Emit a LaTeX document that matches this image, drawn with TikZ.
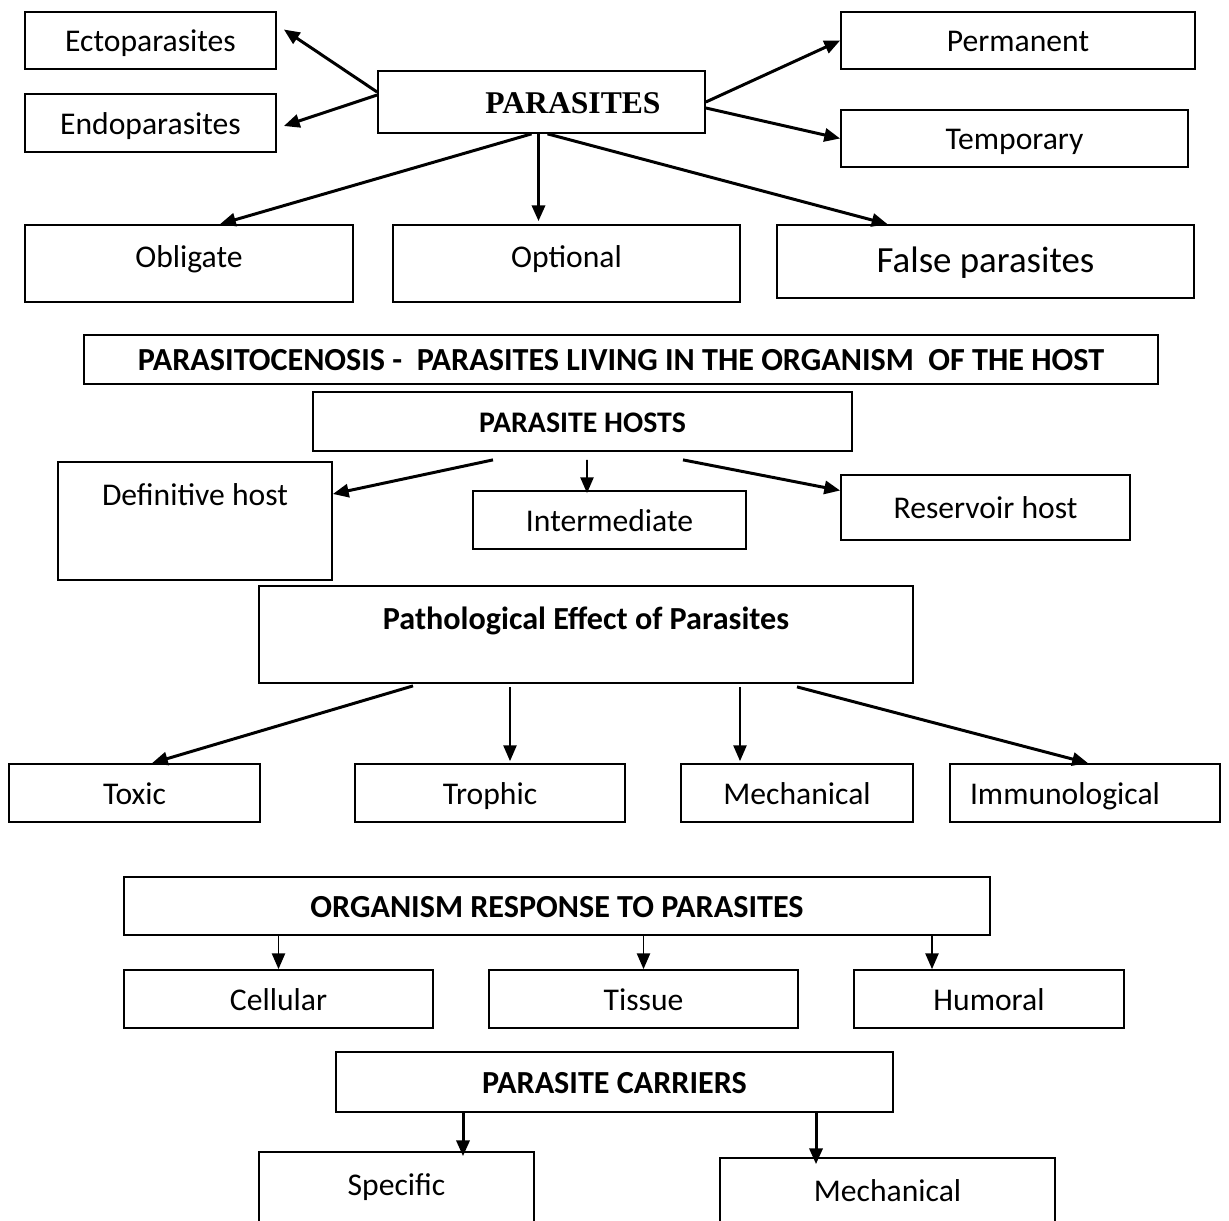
\documentclass[tikz,border=0pt]{standalone}
\usepackage{fontspec}
\setmainfont{Carlito}
\newfontfamily\timesfont{Liberation Serif}
\usepackage{tikz}
\usetikzlibrary{arrows.meta,calc}
\newlength\px
\setlength\px{0.02cm}

\begin{document}
\begin{tikzpicture}[x=\px,y=-\px,>={Triangle[length=9pt,width=7.5pt]},
  box/.style={draw,line width=1pt,inner sep=0pt,text height=13.5pt,text depth=0.5pt,font=\fontsize{18}{22}\selectfont},
  head/.style={box,font=\bfseries\fontsize{18.3}{22}\selectfont},
  arr/.style={->,line width=1.7pt},
  arrthin/.style={->,line width=1.1pt}]
\useasboundingbox (0,0) rectangle (1229,1220);
\clip (0,0) rectangle (1229,1220);

% kinds of parasites
\node[box,font=\timesfont\bfseries\fontsize{18}{22}\selectfont,minimum width=327\px,minimum height=62\px] (par) at (541.5,102) {\hspace*{63\px}PARASITES};
\node[box,minimum width=251\px,minimum height=57\px] (ecto) at (150.5,40.5) {Ectoparasites};
\node[box,minimum width=251\px,minimum height=58\px] (endo) at (150.5,123) {Endoparasites};
\node[box,minimum width=354\px,minimum height=57\px] (perm) at (1018,40.5) {Permanent};
\node[box,minimum width=347\px,minimum height=57\px] (temp) at (1014.5,138.5) {Temporary};
\node[box,minimum width=328\px,text height=42\px,text depth=35\px] (oblig) at (189,263.5) {Obligate};
\node[box,minimum width=347\px,text height=42\px,text depth=35\px] (opt) at (566.5,263.5) {Optional};
\node[box,font=\fontsize{21}{25}\selectfont,minimum width=417\px,minimum height=73\px] (falsep) at (985.5,261.5) {False parasites};
\draw[arr] ([yshift=10\px]par.west) -- ([xshift=7\px,yshift=11\px]ecto.east);
\draw[arr] ([yshift=7\px]par.west) -- ([xshift=7\px,yshift=-3\px]endo.east);
\draw[arr] (par.east) -- (perm.west);
\draw[arr] ([yshift=-6\px]par.east) -- (temp.west);
\draw[arr] ([xshift=-10\px]par.south) -- ([xshift=31\px]oblig.north);
\draw[arr] ([xshift=-3\px]par.south) -- ([xshift=-28\px,yshift=3\px]opt.north);
\draw[arr] ([xshift=6\px]par.south) -- ([xshift=-98\px]falsep.north);

% hosts
\node[head,minimum width=1074\px,minimum height=49\px] (cenosis) at (621,359.5) {PARASITOCENOSIS -\ \ PARASITES LIVING IN THE ORGANISM\ \ OF THE HOST};
\node[head,font=\bfseries\fontsize{17}{20}\selectfont,minimum width=539\px,minimum height=59\px] (hosts) at (582.5,421.5) {PARASITE HOSTS};
\node[box,minimum width=274\px,text height=43\px,text depth=75\px] (defh) at (195,521) {Definitive host};
\node[box,minimum width=273\px,minimum height=58\px] (inter) at (609.5,520) {Intermediate};
\node[box,minimum width=289\px,minimum height=65\px] (res) at (985.5,507.5) {Reservoir host};
\draw[arr] ([xshift=-89.5\px,yshift=-8\px]hosts.south) -- ([yshift=27\px]defh.east);
\draw[arrthin] ([xshift=4.5\px,yshift=-8\px]hosts.south) -- ([xshift=-22.5\px,yshift=-3\px]inter.north);
\draw[arr] ([xshift=100.5\px,yshift=-8\px]hosts.south) -- ([yshift=17\px]res.west);

% pathological effect
\node[head,minimum width=654\px,text height=43\px,text depth=54\px] (patho) at (586,634.5) {Pathological Effect of Parasites};
\node[box,minimum width=251\px,minimum height=58\px] (toxic) at (134.5,793) {Toxic};
\node[box,minimum width=270\px,minimum height=58\px] (trophic) at (490,793) {Trophic};
\node[box,minimum width=232\px,minimum height=58\px] (mech) at (797,793) {Mechanical};
\node[box,minimum width=270\px,minimum height=58\px] (immuno) at (1085,793) {Immunological\hspace*{40\px}};
\draw[arr] ([xshift=-173\px,yshift=-2\px]patho.south) -- ([xshift=17.5\px]toxic.north);
\draw[arrthin] ([xshift=-76\px,yshift=-3\px]patho.south) -- ([xshift=20\px,yshift=2\px]trophic.north);
\draw[arrthin] ([xshift=154\px,yshift=-3\px]patho.south) -- ([xshift=-57\px,yshift=2\px]mech.north);
\draw[arr] ([xshift=211\px,yshift=-3\px]patho.south) -- ([xshift=3\px]immuno.north);

% response
\node[head,minimum width=866\px,minimum height=58\px] (org) at (557,906) {ORGANISM RESPONSE TO PARASITES};
\node[box,minimum width=309\px,minimum height=58\px] (cell) at (278.5,999) {Cellular};
\node[box,minimum width=309\px,minimum height=58\px] (tissue) at (643.5,999) {Tissue};
\node[box,minimum width=270\px,minimum height=58\px] (hum) at (989,999) {Humoral};
\draw[arrthin] (org.south -| cell.north) -- (cell.north);
\draw[arrthin] (org.south -| tissue.north) -- (tissue.north);
\draw[arrthin] ([xshift=-57\px]org.south -| hum.north) -- ([xshift=-57\px]hum.north);

% carriers
\node[head,minimum width=557\px,minimum height=60\px] (carr) at (614.5,1082) {PARASITE CARRIERS};
\node[box,minimum width=275\px,text height=43\px,text depth=45\px] (spec) at (396.5,1196) {Specific};
\node[box,minimum width=335\px,text height=43\px,text depth=39\px] (mech2) at (887.5,1199) {Mechanical};
\draw[arr] ([xshift=66.5\px]carr.south -| spec.north) -- ([xshift=66.5\px,yshift=-5\px]spec.north);
\draw[arr] ([xshift=-71.5\px]carr.south -| mech2.north) -- ([xshift=-71.5\px,yshift=-7\px]mech2.north);
\end{tikzpicture}
\end{document}
